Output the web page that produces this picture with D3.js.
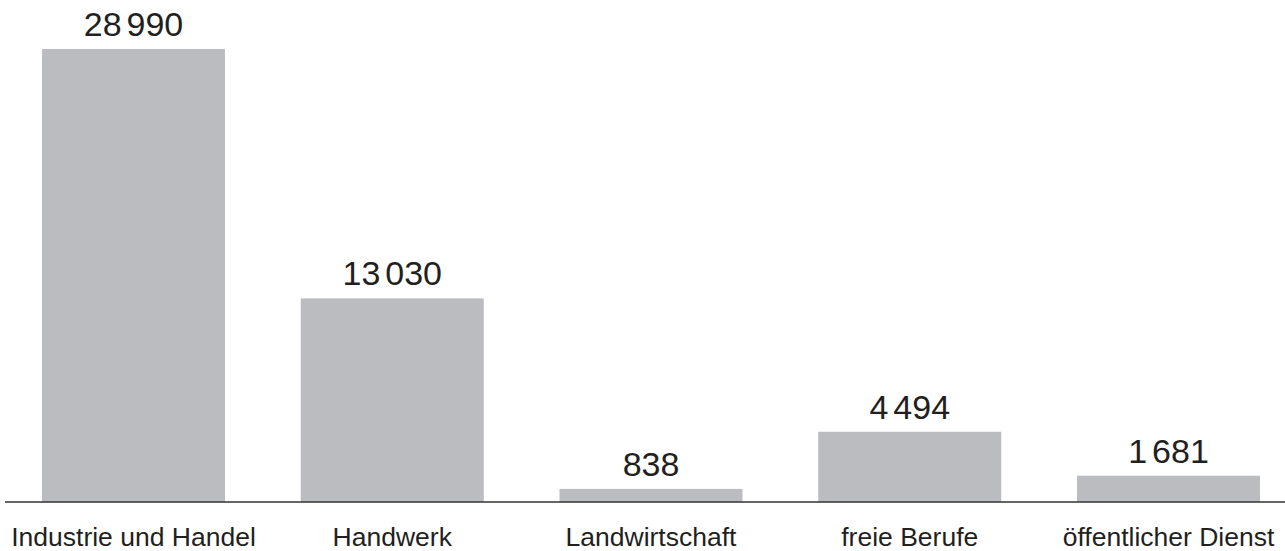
<!DOCTYPE html>
<html>
<head>
<meta charset="utf-8">
<script src="https://cdn.jsdelivr.net/npm/d3@7"></script>
<style>
  html, body { margin: 0; padding: 0; background: #fff; }
  svg { display: block; }
</style>
</head>
<body>
<svg id="chart" width="1285" height="551"></svg>
<script>
const categories = ["Industrie und Handel", "Handwerk", "Landwirtschaft", "freie Berufe", "öffentlicher Dienst"];
const values = [28990, 13030, 838, 4494, 1681];

const W = 1285, H = 551;
const svg = d3.select("#chart");
const font = "'Liberation Sans', Arial, Helvetica, sans-serif";

const x = d3.scaleBand()
  .domain(categories)
  .range([42, 1260])
  .paddingInner(1 - 183 / 258.75)
  .paddingOuter(0);

const y = d3.scaleLinear()
  .domain([0, 28990])
  .range([502, 49]);

const loc = d3.formatLocale({ decimal: ",", thousands: " ", grouping: [3], currency: ["", " €"] });
const fmt = loc.format(",d");

const data = categories.map((c, i) => ({ c, v: values[i] }));

svg.selectAll("rect.bar")
  .data(data)
  .join("rect")
  .attr("class", "bar")
  .attr("x", d => x(d.c))
  .attr("width", x.bandwidth())
  .attr("y", d => y(d.v))
  .attr("height", d => y(0) - y(d.v))
  .attr("fill", "#bbbcc0");

const vals = svg.selectAll("text.val")
  .data(data)
  .join("text")
  .attr("class", "val")
  .attr("x", d => x(d.c) + x.bandwidth() / 2)
  .attr("y", d => y(d.v) - 13)
  .attr("text-anchor", "middle")
  .attr("font-family", font)
  .attr("font-size", 34)
  .attr("fill", "#231f20");

vals.selectAll("tspan")
  .data(d => fmt(d.v).split(" "))
  .join("tspan")
  .attr("dx", (s, i) => i > 0 ? 5 : null)
  .text(s => s);

// baseline axis
const axis = d3.axisBottom(x).tickSize(0).tickPadding(0);
const g = svg.append("g").attr("transform", `translate(0,${y(0)})`).call(axis);
g.select(".domain").remove();
g.append("line")
  .attr("x1", 5).attr("x2", W)
  .attr("y1", 0).attr("y2", 0)
  .attr("stroke", "#333")
  .attr("stroke-width", 1.6);
g.selectAll(".tick text")
  .attr("y", 44)
  .attr("dy", 0)
  .attr("font-family", font)
  .attr("font-size", 26.5)
  .attr("fill", "#231f20");
</script>
</body>
</html>
